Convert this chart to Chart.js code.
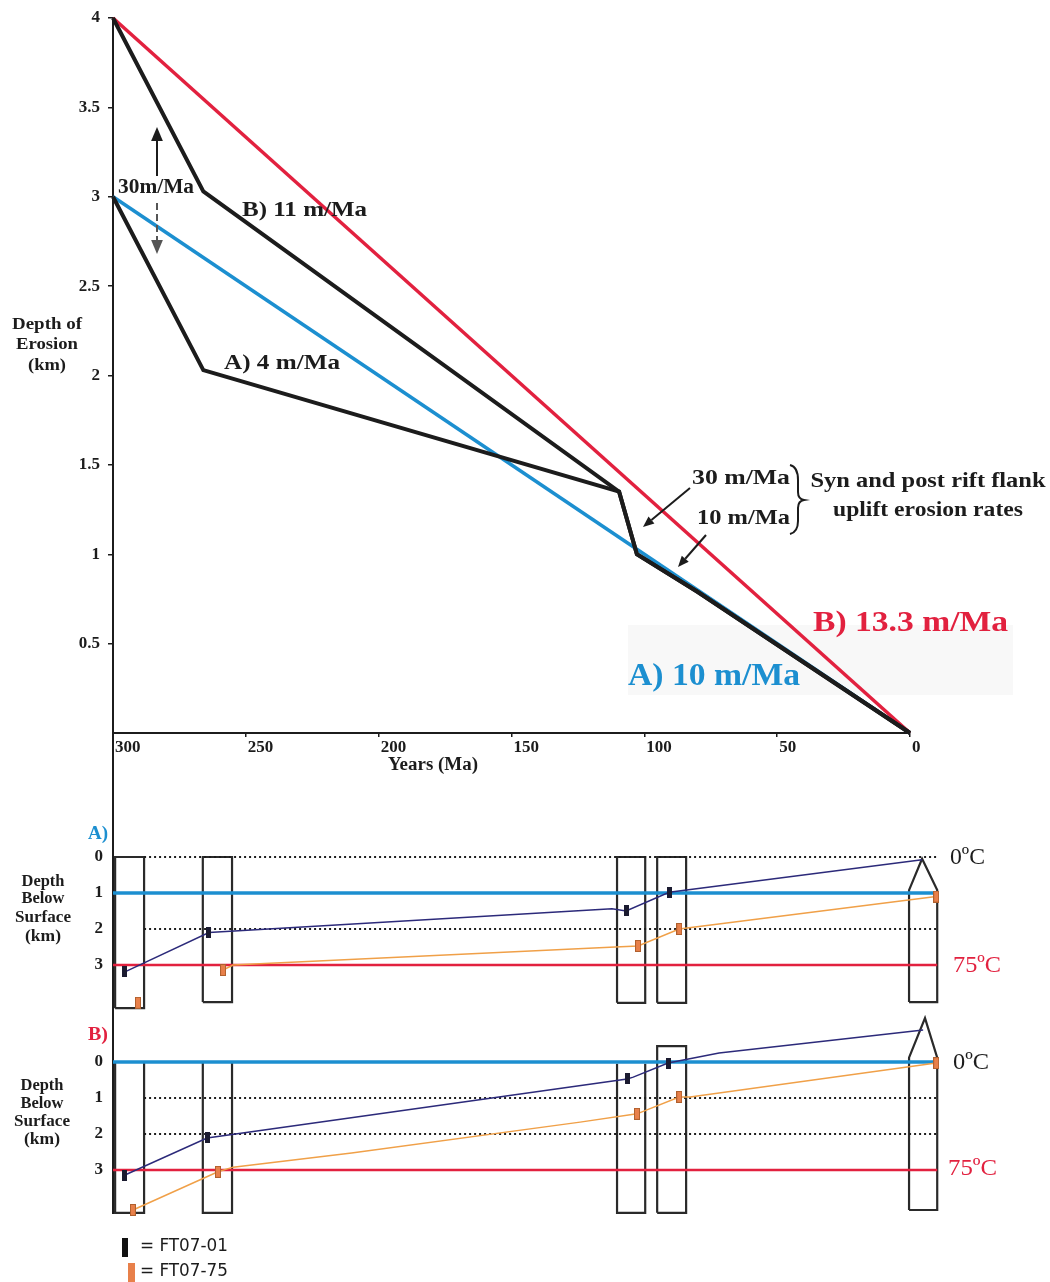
<!DOCTYPE html>
<html>
<head>
<meta charset="utf-8">
<title>Depth of erosion</title>
<script src="https://cdn.jsdelivr.net/npm/chart.js@4.4.1/dist/chart.umd.min.js"></script>
<style>
  html, body { margin: 0; padding: 0; background: #fff; }
  #page { position: relative; width: 1050px; height: 1282px; overflow: hidden; }
  #page canvas { position: absolute; left: 0; }
</style>
</head>
<body>
<div id="page">
  <canvas id="erosionChart" width="1050" height="790" style="top:0px"></canvas>
  <canvas id="panelA" width="1050" height="279" style="top:733px"></canvas>
  <canvas id="panelB" width="1050" height="270" style="top:1012px"></canvas>
</div>
<script>
// ---- top chart: depth of erosion (km) against age (Ma)
const ageTicks = [300, 250, 200, 150, 100, 50, 0];
const erosionTicks = [0.5, 1, 1.5, 2, 2.5, 3, 3.5, 4];
const redAges = [300, 0];
const redDepths = [4, 0];          // B) 13.3 m/Ma
const blueAges = [300, 0];
const blueDepths = [3, 0];         // A) 10 m/Ma
const pathBAges = [300, 266, 109.5, 102.8, 80, 0];
const pathBDepths = [4, 3.03, 1.35, 1.0, 0.79, 0];
const pathAAges = [300, 266, 109.5, 102.8, 80, 0];
const pathADepths = [3, 2.03, 1.35, 1.0, 0.79, 0];

// ---- lower panels: depth below surface (km)
const depthTicks = [0, 1, 2, 3];
const colLeft = [299.2, 266.2, 110.3, 95.2, 0.4];
const colRight = [288.3, 255.2, 99.7, 84.3, -10.2];
const colTopA = [0, 0, 0, 0, 0.92];
const colBottomA = [4.2, 4.03, 4.05, 4.05, 4.03];
const colStyleA = ['closed', 'closed', 'closed', 'closed', 'peak'];
const colTopB = [0, 0, 0.05, -0.44, -0.12];
const colBottomB = [4.19, 4.19, 4.19, 4.19, 4.11];
const colStyleB = ['open', 'open', 'open', 'closed', 'peak'];
const peakAgeA = -4.5, peakDepthA = 0.05;
const peakAgeB = -5.6, peakDepthB = -1.22;

const isoDepthsA = [1, 3];   // 0ºC, 75ºC
const dotDepthsA = [0, 2];
const isoDepthsB = [0, 3];
const dotDepthsB = [1, 2];

const ft01MarkAgeA = [295.5, 263.9, 106.9, 90.7];
const ft01MarkDepthA = [3.19, 2.1, 1.5, 0.98];
const ft75MarkAgeA = [290.6, 258.6, 102.4, 86.9, -9.8];
const ft75MarkDepthA = [4.05, 3.14, 2.47, 2.0, 1.1];
const ft01PathAgeA = [295.5, 263.9, 112.2, 106.9, 90.7, -4.5];
const ft01PathDepthA = [3.19, 2.1, 1.44, 1.5, 0.98, 0.08];
const ft75PathAgeA = [258.6, 254.8, 111, 102.4, 86.9, -9.8];
const ft75PathDepthA = [3.14, 3.0, 2.5, 2.47, 2.0, 1.1];

const ft01MarkAgeB = [295.5, 264.6, 106.5, 91.1];
const ft01MarkDepthB = [3.14, 2.11, 0.47, 0.03];
const ft75MarkAgeB = [292.5, 260.5, 102.8, 86.9, -9.8];
const ft75MarkDepthB = [4.11, 3.05, 1.44, 0.97, 0.03];
const ft01PathAgeB = [295.5, 264.6, 106.5, 104.2, 91.1, 71.9, -4.9];
const ft01PathDepthB = [3.14, 2.11, 0.47, 0.42, 0.03, -0.25, -0.89];
const ft75PathAgeB = [292.5, 260.5, 254.8, 210.2, 124.2, 102.8, 86.9, 82.8, -9.8];
const ft75PathDepthB = [4.11, 3.05, 2.92, 2.53, 1.67, 1.44, 0.97, 0.97, 0.03];

const SERIF = "'Liberation Serif', 'Times New Roman', serif";
const SANS = "'DejaVu Sans', 'Liberation Sans', sans-serif";
const RED = '#e2213f';
const BLUE = '#1c8fd0';
const INK = '#1c1c1c';
const NAVY = '#2c2a7a';
const ORANGE = '#f0a048';

Chart.defaults.animation = false;
Chart.defaults.font.family = SERIF;
Chart.defaults.color = INK;

const pts = (xs, ys) => xs.map((x, i) => ({ x: x, y: ys[i] }));

function barMark(w, h, fill, edge) {
    const c = document.createElement('canvas');
    c.width = w;
    c.height = h;
    const g = c.getContext('2d');
    g.fillStyle = fill;
    g.fillRect(0, 0, w, h);
    if (edge) {
        g.strokeStyle = edge;
        g.lineWidth = 1;
        g.strokeRect(0.5, 0.5, w - 1, h - 1);
    }
    return c;
}
const markFT01 = barMark(5, 11, '#1b1b30');
const markFT75 = barMark(6, 12, '#e8804a', '#b0602e');

function drawArrow(ctx, x1, y1, x2, y2, color, head, dash) {
    const ang = Math.atan2(y2 - y1, x2 - x1);
    const half = head * 0.42;
    const bx = x2 - head * Math.cos(ang), by = y2 - head * Math.sin(ang);
    ctx.save();
    ctx.strokeStyle = color;
    ctx.fillStyle = color;
    ctx.lineWidth = 2;
    ctx.setLineDash(dash || []);
    ctx.beginPath();
    ctx.moveTo(x1, y1);
    ctx.lineTo(bx, by);
    ctx.stroke();
    ctx.setLineDash([]);
    ctx.beginPath();
    ctx.moveTo(x2, y2);
    ctx.lineTo(bx + half * Math.sin(ang), by - half * Math.cos(ang));
    ctx.lineTo(bx - half * Math.sin(ang), by + half * Math.cos(ang));
    ctx.closePath();
    ctx.fill();
    ctx.restore();
}

// texts are given in page coordinates; w = width the text should take
function notesPlugin(top, notes, under, over) {
    return {
        id: 'notes',
        beforeDatasetsDraw(chart) {
            if (!under) return;
            const ctx = chart.ctx;
            ctx.save();
            ctx.translate(0, -top);
            under(ctx);
            ctx.restore();
        },
        afterDraw(chart) {
            const ctx = chart.ctx;
            ctx.save();
            ctx.translate(0, -top);
            ctx.textBaseline = 'middle';
            notes.forEach(n => {
                ctx.font = (n.weight || 'bold') + ' ' + n.size + 'px ' + (n.family || SERIF);
                ctx.fillStyle = n.color || INK;
                ctx.textAlign = n.align || 'left';
                const sx = n.w ? n.w / ctx.measureText(n.text).width : 1;
                ctx.save();
                ctx.translate(n.x, n.y);
                ctx.scale(sx, 1);
                ctx.fillText(n.text, 0, 0);
                ctx.restore();
            });
            if (over) over(ctx);
            ctx.restore();
        }
    };
}

// ---------------- top chart
const erosionNotes = [
    { text: 'Depth of', x: 47, y: 325, size: 17, align: 'center', w: 70 },
    { text: 'Erosion', x: 47, y: 345, size: 17, align: 'center', w: 62 },
    { text: '(km)', x: 47, y: 366, size: 17, align: 'center', w: 38 },
    { text: 'Years (Ma)', x: 433, y: 765, size: 18, align: 'center', w: 90 },
    { text: '30m/Ma', x: 118, y: 188, size: 20, w: 76 },
    { text: 'B) 11 m/Ma', x: 242, y: 210, size: 22, w: 125 },
    { text: 'A) 4 m/Ma', x: 224, y: 363, size: 22, w: 116 },
    { text: '30 m/Ma', x: 692, y: 478, size: 22, w: 98 },
    { text: '10 m/Ma', x: 697, y: 518, size: 22, w: 93 },
    { text: 'Syn and post rift flank', x: 928, y: 481, size: 22, align: 'center', w: 235 },
    { text: 'uplift erosion rates', x: 928, y: 510, size: 22, align: 'center', w: 190 },
    { text: 'B) 13.3 m/Ma', x: 813, y: 623, size: 30, color: RED, w: 195 },
    { text: 'A) 10 m/Ma', x: 628, y: 677, size: 31, color: BLUE, w: 172 }
];

function erosionUnder(ctx) {
    ctx.fillStyle = '#f8f8f8';
    ctx.fillRect(628, 625, 385, 70);
}

function erosionOver(ctx) {
    drawArrow(ctx, 157, 176, 157, 127, INK, 14);
    drawArrow(ctx, 157, 203, 157, 254, '#555', 14, [7, 4]);
    drawArrow(ctx, 690, 488, 643, 527, INK, 11);
    drawArrow(ctx, 706, 535, 678, 567, INK, 11);
    // brace joining the two rates
    ctx.strokeStyle = INK;
    ctx.lineWidth = 2;
    ctx.beginPath();
    ctx.moveTo(790, 465);
    ctx.quadraticCurveTo(798, 467, 798, 480);
    ctx.lineTo(798, 492);
    ctx.quadraticCurveTo(798, 499, 804, 500);
    ctx.quadraticCurveTo(798, 501, 798, 508);
    ctx.lineTo(798, 521);
    ctx.quadraticCurveTo(798, 532, 790, 534);
    ctx.stroke();
}

const lineSet = (data, color, width, order) => ({
    data: data,
    showLine: true,
    borderColor: color,
    borderWidth: width,
    pointRadius: 0,
    pointHoverRadius: 0,
    fill: false,
    tension: 0,
    clip: false,
    order: order
});

new Chart(document.getElementById('erosionChart'), {
    type: 'scatter',
    data: {
        datasets: [
            lineSet(pts(pathBAges, pathBDepths), INK, 4, 0),
            lineSet(pts(pathAAges, pathADepths), INK, 4, 0),
            lineSet(pts(redAges, redDepths), RED, 3.5, 1),
            lineSet(pts(blueAges, blueDepths), BLUE, 3.5, 2)
        ]
    },
    options: {
        responsive: false,
        events: [],
        layout: { autoPadding: false, padding: { left: 0, right: 140, top: 18, bottom: 0 } },
        plugins: { legend: { display: false }, tooltip: { enabled: false } },
        scales: {
            x: {
                type: 'linear',
                reverse: true,
                min: 0,
                max: 300,
                afterBuildTicks: s => { s.ticks = ageTicks.map(v => ({ value: v })); },
                afterFit: s => { s.height = 57; },
                ticks: { align: 'start', labelOffset: 2, padding: 0, maxRotation: 0, autoSkip: false,
                         color: INK, font: { size: 17, weight: 'bold' }, callback: v => String(v) },
                grid: { drawOnChartArea: false, tickLength: 4, color: INK, lineWidth: 1.5 },
                border: { display: true, color: INK, width: 2 }
            },
            y: {
                type: 'linear',
                min: 0,
                max: 4,
                afterBuildTicks: s => { s.ticks = erosionTicks.map(v => ({ value: v })); },
                afterFit: s => { s.width = 113; s.paddingTop = 0; s.paddingBottom = 0; },
                ticks: { padding: 8, color: INK, font: { size: 17, weight: 'bold' }, callback: v => String(v) },
                grid: { drawOnChartArea: false, tickLength: 5, color: INK, lineWidth: 1.5 },
                border: { display: true, color: INK, width: 2 }
            }
        }
    },
    plugins: [notesPlugin(0, erosionNotes, erosionUnder, erosionOver)]
});

// ---------------- lower panels
function columnOutline(i, top, bottom, style, peak) {
    const l = colLeft[i], r = colRight[i];
    if (style === 'open') {
        return [{ x: l, y: top }, { x: l, y: bottom }, { x: r, y: bottom }, { x: r, y: top }];
    }
    const outline = [{ x: l, y: bottom }, { x: l, y: top }];
    if (style === 'peak') outline.push(peak);
    outline.push({ x: r, y: top }, { x: r, y: bottom }, { x: l, y: bottom });
    return outline;
}

function panelDatasets(p) {
    const sets = [
        { data: pts(p.ft01MarkAge, p.ft01MarkDepth), pointStyle: markFT01, pointRadius: 5, pointHoverRadius: 5, showLine: false, clip: false, order: 0 },
        { data: pts(p.ft75MarkAge, p.ft75MarkDepth), pointStyle: markFT75, pointRadius: 5, pointHoverRadius: 5, showLine: false, clip: false, order: 0 },
        lineSet(pts(p.ft01PathAge, p.ft01PathDepth), NAVY, 1.5, 1),
        lineSet(pts(p.ft75PathAge, p.ft75PathDepth), ORANGE, 1.5, 1)
    ];
    const end = colRight[4];
    sets.push(lineSet([{ x: 300, y: p.iso[0] }, { x: end, y: p.iso[0] }], BLUE, 3.5, 2));
    sets.push(lineSet([{ x: 300, y: p.iso[1] }, { x: end, y: p.iso[1] }], RED, 2.5, 2));
    p.dots.forEach(d => {
        const s = lineSet([{ x: colRight[0], y: d }, { x: end, y: d }], INK, 2, 3);
        s.borderDash = [2, 3];
        sets.push(s);
    });
    colLeft.forEach((_, i) => {
        sets.push(lineSet(columnOutline(i, p.tops[i], p.bottoms[i], p.styles[i], p.peak), '#2a2a2a', 2.2, 4));
    });
    return sets;
}

function panelOptions(yMin, yMax, bottomPad) {
    return {
        responsive: false,
        events: [],
        layout: { autoPadding: false, padding: { left: 0, right: 108, top: 0, bottom: bottomPad } },
        plugins: { legend: { display: false }, tooltip: { enabled: false } },
        scales: {
            x: { type: 'linear', reverse: true, min: -12, max: 300, display: false },
            y: {
                type: 'linear',
                reverse: true,
                min: yMin,
                max: yMax,
                afterBuildTicks: s => { s.ticks = depthTicks.map(v => ({ value: v })); },
                afterFit: s => { s.width = 113; s.paddingTop = 0; s.paddingBottom = 0; },
                ticks: { padding: 10, color: INK, font: { size: 17, weight: 'bold' } },
                grid: { display: false, drawTicks: false },
                border: { display: true, color: INK, width: 2 }
            }
        }
    };
}

const notesA = [
    { text: 'A)', x: 98, y: 834, size: 19, align: 'center', color: BLUE, w: 20 },
    { text: 'Depth', x: 43, y: 882, size: 16, align: 'center', w: 43 },
    { text: 'Below', x: 43, y: 899, size: 16, align: 'center', w: 43 },
    { text: 'Surface', x: 43, y: 918, size: 16, align: 'center', w: 56 },
    { text: '(km)', x: 43, y: 937, size: 16, align: 'center', w: 36 },
    { text: '0ºC', x: 950, y: 858, size: 24, weight: 'normal', w: 35 },
    { text: '75ºC', x: 953, y: 966, size: 24, weight: 'normal', color: RED, w: 48 }
];

new Chart(document.getElementById('panelA'), {
    type: 'scatter',
    data: {
        datasets: panelDatasets({
            ft01MarkAge: ft01MarkAgeA, ft01MarkDepth: ft01MarkDepthA,
            ft75MarkAge: ft75MarkAgeA, ft75MarkDepth: ft75MarkDepthA,
            ft01PathAge: ft01PathAgeA, ft01PathDepth: ft01PathDepthA,
            ft75PathAge: ft75PathAgeA, ft75PathDepth: ft75PathDepthA,
            iso: isoDepthsA, dots: dotDepthsA,
            tops: colTopA, bottoms: colBottomA, styles: colStyleA,
            peak: { x: peakAgeA, y: peakDepthA }
        })
    },
    options: panelOptions(-3.444, 4.306, 0),
    plugins: [notesPlugin(733, notesA)]
});

const notesB = [
    { text: 'B)', x: 98, y: 1035, size: 19, align: 'center', color: RED, w: 20 },
    { text: 'Depth', x: 42, y: 1086, size: 16, align: 'center', w: 43 },
    { text: 'Below', x: 42, y: 1104, size: 16, align: 'center', w: 43 },
    { text: 'Surface', x: 42, y: 1122, size: 16, align: 'center', w: 56 },
    { text: '(km)', x: 42, y: 1140, size: 16, align: 'center', w: 36 },
    { text: '0ºC', x: 953, y: 1063, size: 24, weight: 'normal', w: 36 },
    { text: '75ºC', x: 948, y: 1169, size: 24, weight: 'normal', color: RED, w: 49 },
    { text: '= FT07-01', x: 140, y: 1247, size: 17, weight: 'normal', family: SANS, w: 88 },
    { text: '= FT07-75', x: 140, y: 1272, size: 17, weight: 'normal', family: SANS, w: 88 }
];

function legendSwatches(ctx) {
    ctx.fillStyle = '#111';
    ctx.fillRect(122, 1238, 6, 19);
    ctx.fillStyle = '#e8804a';
    ctx.fillRect(128, 1263, 7, 19);
}

new Chart(document.getElementById('panelB'), {
    type: 'scatter',
    data: {
        datasets: panelDatasets({
            ft01MarkAge: ft01MarkAgeB, ft01MarkDepth: ft01MarkDepthB,
            ft75MarkAge: ft75MarkAgeB, ft75MarkDepth: ft75MarkDepthB,
            ft01PathAge: ft01PathAgeB, ft01PathDepth: ft01PathDepthB,
            ft75PathAge: ft75PathAgeB, ft75PathDepth: ft75PathDepthB,
            iso: isoDepthsB, dots: dotDepthsB,
            tops: colTopB, bottoms: colBottomB, styles: colStyleB,
            peak: { x: peakAgeB, y: peakDepthB }
        })
    },
    options: panelOptions(-1.389, 4.194, 69),
    plugins: [notesPlugin(1012, notesB, null, legendSwatches)]
});
</script>
</body>
</html>
